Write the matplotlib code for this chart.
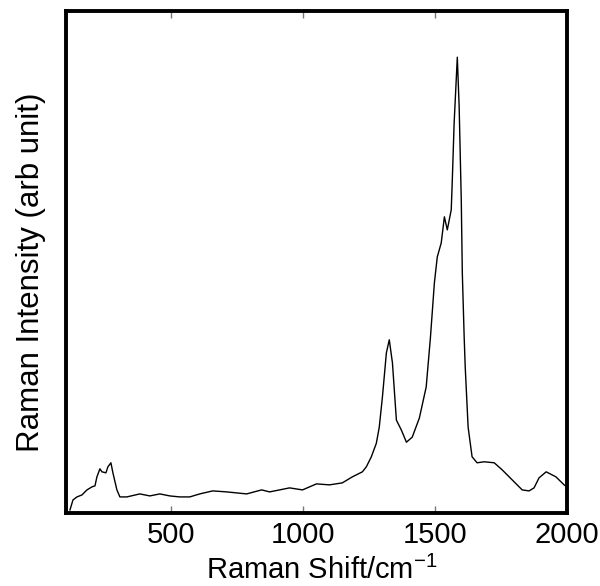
import numpy as np
import matplotlib
matplotlib.use('Agg')
import matplotlib.pyplot as plt

plt.rcParams['font.family'] = ['Liberation Sans', 'DejaVu Sans']

# Raman shift (cm^-1) and intensity (arb unit)
shift = [115, 126.5, 141.6, 160.6, 179.5, 198.4, 209.8, 217.3, 228.7, 236.3,
         251.4, 259, 270.3, 277.9, 293, 304.4, 330.9, 380, 417.9, 455.8,
         493.6, 531.5, 569.3, 607.2, 656.4, 709.4, 785.1, 841.9, 872.1, 947.8,
         997, 1050, 1099, 1148, 1186, 1224, 1239, 1258, 1277, 1288,
         1300, 1315, 1326, 1338, 1353, 1372, 1391, 1413, 1440, 1466,
         1482, 1497, 1508, 1523, 1535, 1546, 1561, 1565, 1572, 1584,
         1591, 1599, 1603, 1610, 1614, 1625, 1640, 1659, 1686, 1724,
         1754, 1792, 1830, 1856, 1875, 1894, 1921, 1958, 1989, 2000]
intensity = [0.6, 2.6, 3.2, 3.6, 4.6, 5.2, 5.4, 7.2, 8.8, 8.2,
             8.0, 9.2, 10.0, 8.0, 4.6, 3.2, 3.2, 3.8, 3.4, 3.8,
             3.4, 3.2, 3.2, 3.8, 4.4, 4.2, 3.8, 4.6, 4.2, 5.0,
             4.6, 5.8, 5.6, 6.0, 7.2, 8.2, 9.2, 11.2, 13.9, 17.1,
             23.1, 31.9, 34.5, 29.9, 18.5, 16.5, 14.1, 15.1, 18.9, 25.1,
             34.9, 45.8, 51.0, 53.8, 59.0, 56.4, 60.4, 66.3, 77.7, 90.8,
             80.9, 62.4, 47.8, 35.1, 29.1, 17.1, 11.2, 10.0, 10.2, 10.0,
             8.6, 6.6, 4.6, 4.4, 5.0, 7.0, 8.2, 7.2, 5.6, 5.2]
xticks = [500, 1000, 1500, 2000]

fig = plt.figure(figsize=(6, 5.86), dpi=100)
ax = fig.add_axes([0.11, 0.1246, 0.835, 0.8566])
ax.plot(shift, intensity, color='black', linewidth=1.0)

ax.set_xlim(100, 2000)
ax.set_ylim(0, 100)
ax.set_xticks(xticks)
ax.set_yticks([])
ax.tick_params(axis='x', direction='in', top=True, length=5, width=1,
               color='#777777', labelsize=21, pad=6)
for sp in ax.spines.values():
    sp.set_linewidth(2.8)

ax.set_xlabel('Raman Shift/cm$^{\\mathregular{-1}}$', fontsize=21)
ax.set_ylabel('Raman Intensity (arb unit)', fontsize=22.5)
ax.xaxis.set_label_coords(0.51, -0.085)
ax.yaxis.set_label_coords(-0.04, 0.48)

fig.savefig('out.png', dpi=100)
